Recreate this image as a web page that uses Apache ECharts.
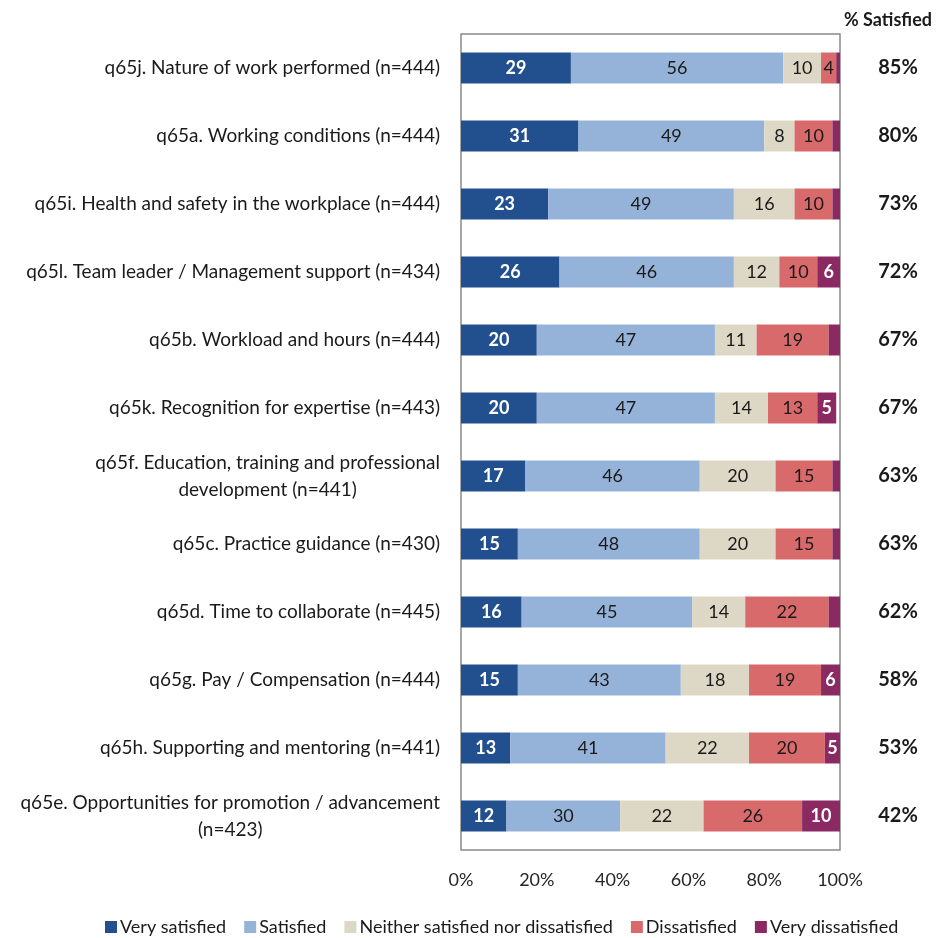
<!DOCTYPE html>
<html>
<head>
<meta charset="utf-8">
<script src="https://cdn.jsdelivr.net/npm/echarts@6/dist/echarts.min.js"></script>
<style>
  html, body { margin: 0; padding: 0; background: #fff; }
  #chart { width: 941px; height: 938px; }
</style>
</head>
<body>
<div id="chart"></div>
<script>
// categories, top to bottom
const categories = [
  'q65j. Nature of work performed (n=444)',
  'q65a. Working conditions (n=444)',
  'q65i. Health and safety in the workplace (n=444)',
  'q65l. Team leader / Management support (n=434)',
  'q65b. Workload and hours (n=444)',
  'q65k. Recognition for expertise (n=443)',
  'q65f. Education, training and professional\ndevelopment (n=441)',
  'q65c. Practice guidance (n=430)',
  'q65d. Time to collaborate (n=445)',
  'q65g. Pay / Compensation (n=444)',
  'q65h. Supporting and mentoring (n=441)',
  'q65e. Opportunities for promotion / advancement\n(n=423)'
];

const verySatisfied = [29, 31, 23, 26, 20, 20, 17, 15, 16, 15, 13, 12];
const satisfied = [56, 49, 49, 46, 47, 47, 46, 48, 45, 43, 41, 30];
const neither = [10, 8, 16, 12, 11, 14, 20, 20, 14, 18, 22, 22];
const dissatisfied = [4, 10, 10, 10, 19, 13, 15, 15, 22, 19, 20, 26];
const veryDissatisfied = [1, 2, 2, 6, 3, 5, 2, 2, 3, 6, 5, 10];

const pctSatisfied = ['85%', '80%', '73%', '72%', '67%', '67%', '63%', '63%', '62%', '58%', '53%', '42%'];

const xTicks = [0, 20, 40, 60, 80, 100];

const FONT = 'Lato';

const seriesDefs = [
  { name: 'Very satisfied', data: verySatisfied, color: '#22508e', text: '#fff' },
  { name: 'Satisfied', data: satisfied, color: '#95b3d9', text: '#1a1a1a' },
  { name: 'Neither satisfied nor dissatisfied', data: neither, color: '#ddd8c6', text: '#1a1a1a' },
  { name: 'Dissatisfied', data: dissatisfied, color: '#d96a6b', text: '#1a1a1a' },
  { name: 'Very dissatisfied', data: veryDissatisfied, color: '#8b2a62', text: '#fff' }
];

const chart = echarts.init(document.getElementById('chart'));

const option = {
  animation: false,
  textStyle: { fontFamily: FONT },
  title: {
    text: '% Satisfied',
    right: 4,
    top: 6,
    textStyle: { fontFamily: FONT, fontSize: 18, fontWeight: 'bold', color: '#1a1a1a' }
  },
  legend: {
    bottom: -3,
    left: 100,
    itemWidth: 12,
    itemHeight: 12,
    itemGap: 18,
    icon: 'rect',
    textStyle: { fontFamily: FONT, fontSize: 18, color: '#1a1a1a', padding: [0, 0, 0, -2] },
    data: seriesDefs.map(s => s.name)
  },
  grid: {
    left: 461,
    right: 101,
    top: 34,
    bottom: 88,
    show: true,
    borderColor: '#8a8a8a',
    borderWidth: 1.5,
    containLabel: false
  },
  xAxis: {
    type: 'value',
    min: xTicks[0],
    max: xTicks[xTicks.length - 1],
    interval: 20,
    splitLine: { show: false },
    axisLine: { show: false },
    axisTick: { show: false },
    axisLabel: {
      formatter: '{value}%',
      margin: 21,
      fontFamily: FONT,
      fontSize: 18,
      color: '#262626'
    }
  },
  yAxis: [
    {
      type: 'category',
      inverse: true,
      data: categories,
      axisTick: { show: false },
      axisLine: { show: false },
      axisLabel: {
        margin: 21,
        fontFamily: FONT,
        fontSize: 19,
        color: '#1a1a1a',
        lineHeight: 27,
        formatter: v => v.split('\n').map(l => '{c|' + l + '}').join('\n'),
        rich: { c: { align: 'center', fontFamily: FONT, fontSize: 19, color: '#1a1a1a', lineHeight: 27 } }
      }
    },
    {
      type: 'category',
      inverse: true,
      position: 'right',
      data: pctSatisfied,
      axisTick: { show: false },
      axisLine: { show: false },
      axisLabel: {
        margin: 58,
        align: 'center',
        fontFamily: FONT,
        fontSize: 20,
        fontWeight: 'bold',
        color: '#1a1a1a'
      }
    }
  ],
  series: seriesDefs.map(s => ({
    name: s.name,
    type: 'bar',
    stack: 'total',
    barWidth: 31,
    itemStyle: { color: s.color },
    label: {
      show: true,
      position: 'inside',
      fontFamily: FONT,
      fontSize: 18,
      color: s.text,
      fontWeight: s.text === '#fff' ? 'bold' : 'normal',
      formatter: p => (p.value >= 4 ? p.value : '')
    },
    data: s.data
  }))
};

chart.setOption(option);
</script>
</body>
</html>
